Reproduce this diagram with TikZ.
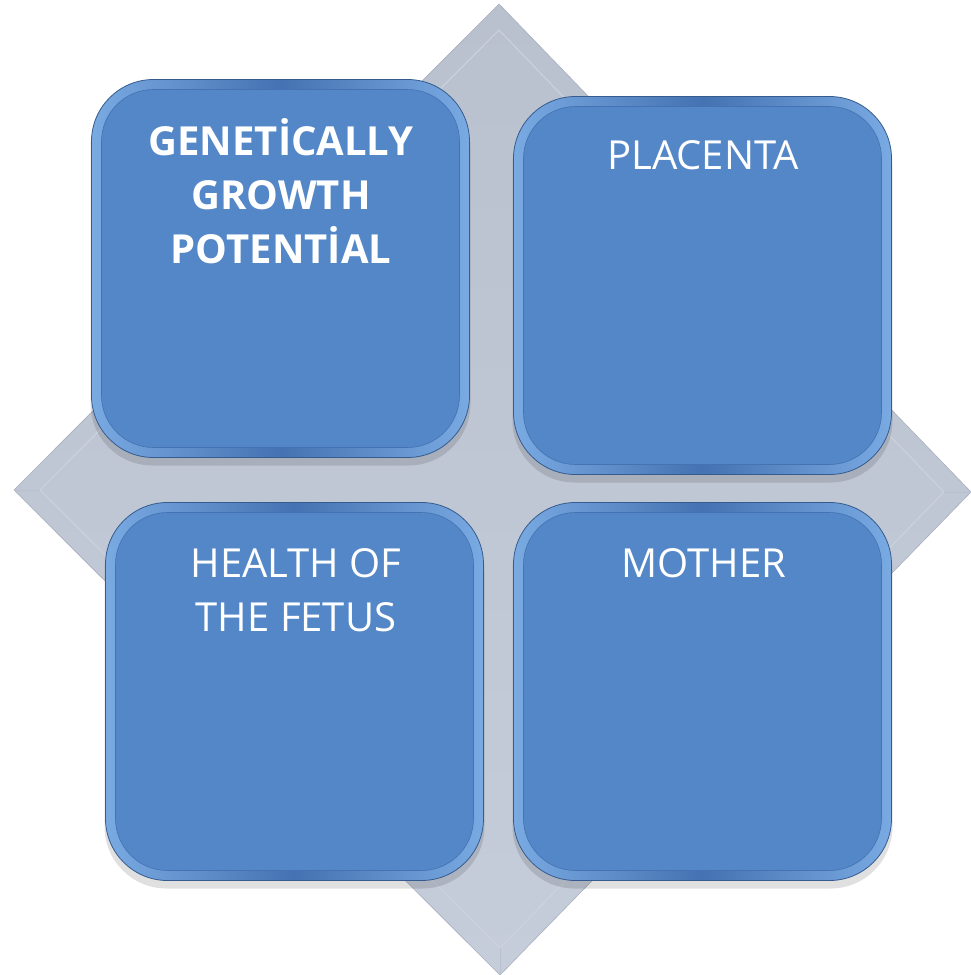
\documentclass[tikz,border=0pt]{standalone}
\usepackage{fontspec}
\setmainfont{Open Sans}
\definecolor{boxblue}{RGB}{84,135,199}
\definecolor{boxedge}{RGB}{68,114,178}
\definecolor{boxlight}{RGB}{122,170,226}
\definecolor{dmdtop}{RGB}{186,193,206}
\definecolor{dmdbot}{RGB}{198,205,218}
\definecolor{dmdline}{RGB}{204,210,222}
\definecolor{dmddark}{RGB}{168,175,190}
\tikzset{
  boxshadow/.style={rounded corners=62pt, minimum width=380pt, minimum height=380pt,
    fill=black, fill opacity=0.12, draw=none},
  boxouter/.style={rounded corners=62pt, minimum width=378pt, minimum height=378pt,
    left color=boxlight, right color=boxlight, middle color=boxedge,
    draw=boxedge!80!black, line width=0.8pt},
  boxinner/.style={rounded corners=52pt, minimum width=358pt, minimum height=358pt,
    fill=boxblue, draw=boxedge, line width=0.6pt},
  lbl/.style={text=white, align=center, font=\fontsize{40}{54}\selectfont, inner sep=0pt}
}
\begin{document}
\begin{tikzpicture}[x=1pt,y=-1pt]
\useasboundingbox (0,0) rectangle (971,975);
\fill[white] (0,0) rectangle (971,975);
% diamond
\coordinate (dt) at (499,4);
\coordinate (dr) at (971,492);
\coordinate (db) at (500,975);
\coordinate (dl) at (14,490);
\coordinate (it) at (499,30);
\coordinate (ir) at (944,492);
\coordinate (ib) at (500,948);
\coordinate (il) at (40,490);
\shade[top color=dmdtop, bottom color=dmdbot, draw=dmddark, line width=0.6pt] (dt) -- (dr) -- (db) -- (dl) -- cycle;
\draw[dmdline, line width=1pt] (it) -- (ir) -- (ib) -- (il) -- cycle;
\draw[dmddark!50!dmdline, line width=0.6pt] (dt) -- (it) (dr) -- (ir) (db) -- (ib) (dl) -- (il);
% shadows
\node[boxshadow] (tls) at (280.5,275.5) {};
\node[boxshadow] (trs) at (702.5,292.5) {};
\node[boxshadow] (bls) at (294.5,698.5) {};
\node[boxshadow] (brs) at (702.5,698.5) {};
% boxes
\node[boxouter] (tl) at (280.5,268.5) {};
\node[boxinner] (tli) at (tl.center) {};
\node[boxouter] (tr) at (702.5,285.5) {};
\node[boxinner] (tri) at (tr.center) {};
\node[boxouter] (bl) at (294.5,691.5) {};
\node[boxinner] (bli) at (bl.center) {};
\node[boxouter] (br) at (702.5,691.5) {};
\node[boxinner] (bri) at (br.center) {};
% labels
\node[lbl, font=\fontsize{40}{54}\selectfont\bfseries] (tlt) at (281,191) {GENETİCALLY\\GROWTH\\POTENTİAL};
\node[lbl] (trt) at (703,155) {PLACENTA};
\node[lbl] (blt) at (296,590) {HEALTH OF\\THE FETUS};
\node[lbl] (brt) at (704,563) {MOTHER};
\end{tikzpicture}
\end{document}
